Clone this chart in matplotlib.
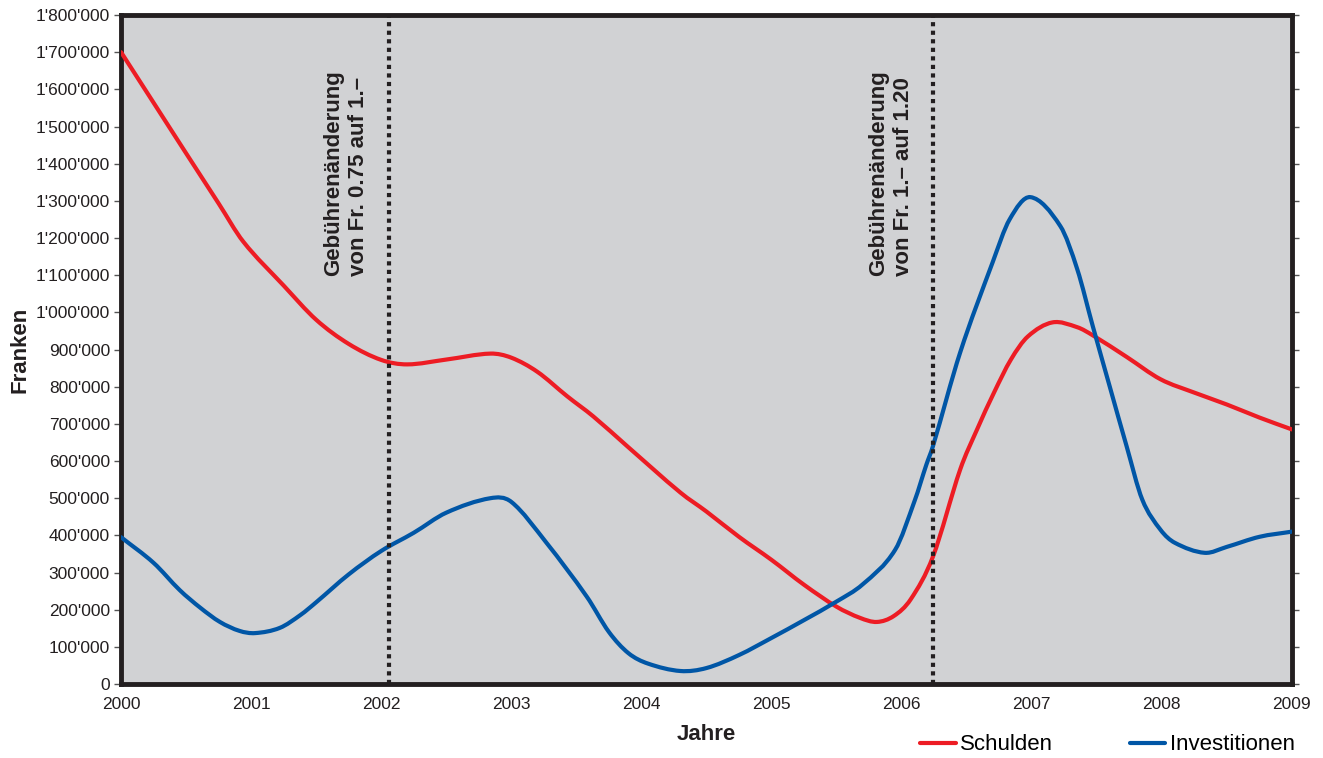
import matplotlib
matplotlib.use("Agg")
import matplotlib.pyplot as plt
from matplotlib.path import Path
from matplotlib.patches import PathPatch
from matplotlib.lines import Line2D
from matplotlib.ticker import FuncFormatter, MultipleLocator

plt.rcParams['font.family'] = ['Liberation Sans', 'DejaVu Sans']

# Values (year, Franken)
schulden_x = [2000.00, 2000.25, 2000.50, 2000.75, 2000.94, 2001.25, 2001.50, 2001.75,
              2002.00, 2002.20, 2002.50, 2002.84, 2003.00, 2003.20, 2003.43, 2003.63,
              2003.89, 2004.30, 2004.50, 2004.75, 2005.00, 2005.25, 2005.50, 2005.68,
              2005.81, 2005.94, 2006.07, 2006.24, 2006.45, 2006.58, 2006.71, 2006.84,
              2006.97, 2007.16, 2007.35, 2007.47, 2007.73, 2007.99, 2008.25, 2008.50,
              2008.75, 2009.00]
schulden_y = [1700000, 1564000, 1428000, 1293000, 1190000, 1072000, 980000, 915000,
              872000, 860000, 873000, 889000, 878000, 840000, 774000, 720000,
              640000, 515000, 464000, 396000, 334000, 267000, 208000, 178000,
              167000, 183000, 228000, 342000, 577000, 685000, 784000, 873000,
              935000, 973000, 960000, 938000, 880000, 820000, 784000, 752000,
              717000, 685000]

invest_x = [2000.00, 2000.25, 2000.45, 2000.61, 2000.76, 2000.91, 2001.03, 2001.22,
            2001.38, 2001.50, 2001.75, 2002.00, 2002.25, 2002.50, 2002.84, 2003.00,
            2003.27, 2003.58, 2003.75, 2003.90, 2004.05, 2004.30, 2004.50, 2004.75,
            2005.00, 2005.25, 2005.50, 2005.70, 2005.95, 2006.10, 2006.19, 2006.24,
            2006.45, 2006.70, 2006.83, 2006.99, 2007.22, 2007.35, 2007.47, 2007.60,
            2007.73, 2007.85, 2007.99, 2008.10, 2008.33, 2008.50, 2008.75, 2009.00]
invest_y = [395000, 326000, 253000, 205000, 167000, 143000, 137000, 151000,
            186000, 220000, 295000, 358000, 407000, 461000, 500000, 490000,
            380000, 235000, 140000, 83000, 55000, 35000, 43000, 78000,
            124000, 172000, 222000, 268000, 361000, 493000, 590000, 639000,
            892000, 1135000, 1250000, 1310000, 1232000, 1116000, 962000, 800000,
            639000, 496000, 415000, 380000, 353000, 369000, 396000, 410000]

change_years = [2002.06, 2006.24]
change_labels = ["Gebührenänderung\nvon Fr. 0.75 auf 1.–",
                 "Gebührenänderung\nvon Fr. 1.– auf 1.20"]
label_x = [2001.73, 2005.92]

dark = '#231f20'
red = '#ed1c24'
blue = '#0056a6'


# smoothed line through the points (cubic Bezier, like a "smoothed line" in a spreadsheet)
def smooth_path(xs, ys):
    n = len(xs)
    slopes = []
    for i in range(n):
        a, b = max(i - 1, 0), min(i + 1, n - 1)
        slopes.append((ys[b] - ys[a]) / (xs[b] - xs[a]))
    verts = [(xs[0], ys[0])]
    codes = [Path.MOVETO]
    for i in range(n - 1):
        h = (xs[i + 1] - xs[i]) / 3
        verts += [(xs[i] + h, ys[i] + slopes[i] * h),
                  (xs[i + 1] - h, ys[i + 1] - slopes[i + 1] * h),
                  (xs[i + 1], ys[i + 1])]
        codes += [Path.CURVE4] * 3
    return Path(verts, codes)


fig = plt.figure(figsize=(13.23, 7.58), dpi=100)
ax = fig.add_axes([0.0915, 0.0976, 0.885, 0.8826])
ax.set_facecolor('#d1d2d4')

for xs, ys, col in [(schulden_x, schulden_y, red), (invest_x, invest_y, blue)]:
    ax.add_patch(PathPatch(smooth_path(xs, ys), facecolor='none', edgecolor=col,
                           lw=3, capstyle='round', joinstyle='round', zorder=3))

for yr in change_years:
    ax.axvline(yr, color=dark, lw=3, linestyle=(0, (1, 1.05)), zorder=4)
for xx, txt in zip(label_x, change_labels):
    ax.text(xx, 1097000, txt, rotation=90, ha='center', va='bottom',
            multialignment='left', fontsize=16, fontweight='bold', color=dark,
            linespacing=1.25)

ax.set_xlim(2000, 2009)
ax.set_ylim(0, 1800000)
ax.xaxis.set_major_locator(MultipleLocator(1))
ax.yaxis.set_major_locator(MultipleLocator(100000))
ax.xaxis.set_major_formatter(FuncFormatter(lambda v, p: f"{int(round(v))}"))
ax.yaxis.set_major_formatter(FuncFormatter(lambda v, p: f"{int(round(v)):,}".replace(",", "'")))

ax.tick_params(axis='y', which='both', direction='out', length=5, width=1,
               color='#555555', labelsize=12.5, labelcolor=dark, pad=3,
               right=True)
ax.tick_params(axis='x', length=0, labelsize=12.5, labelcolor=dark, pad=9)

for s in ax.spines.values():
    s.set_linewidth(3.5)
    s.set_color(dark)

ax.set_xlabel('Jahre', fontsize=16, fontweight='bold', color=dark, labelpad=9)
ax.set_ylabel('Franken', fontsize=16, fontweight='bold', color=dark, labelpad=4)

handles = [Line2D([], [], color=red, lw=3, solid_capstyle='round'),
           Line2D([], [], color=blue, lw=3, solid_capstyle='round')]
fig.legend(handles, ['Schulden', 'Investitionen'], loc='center left',
           bbox_to_anchor=(920 / 1323, 13 / 758), ncol=2, frameon=False,
           fontsize=16, handlelength=1.6, handletextpad=0.2,
           columnspacing=3.45, borderpad=0, borderaxespad=0)

fig.savefig('out.png', dpi=100)
